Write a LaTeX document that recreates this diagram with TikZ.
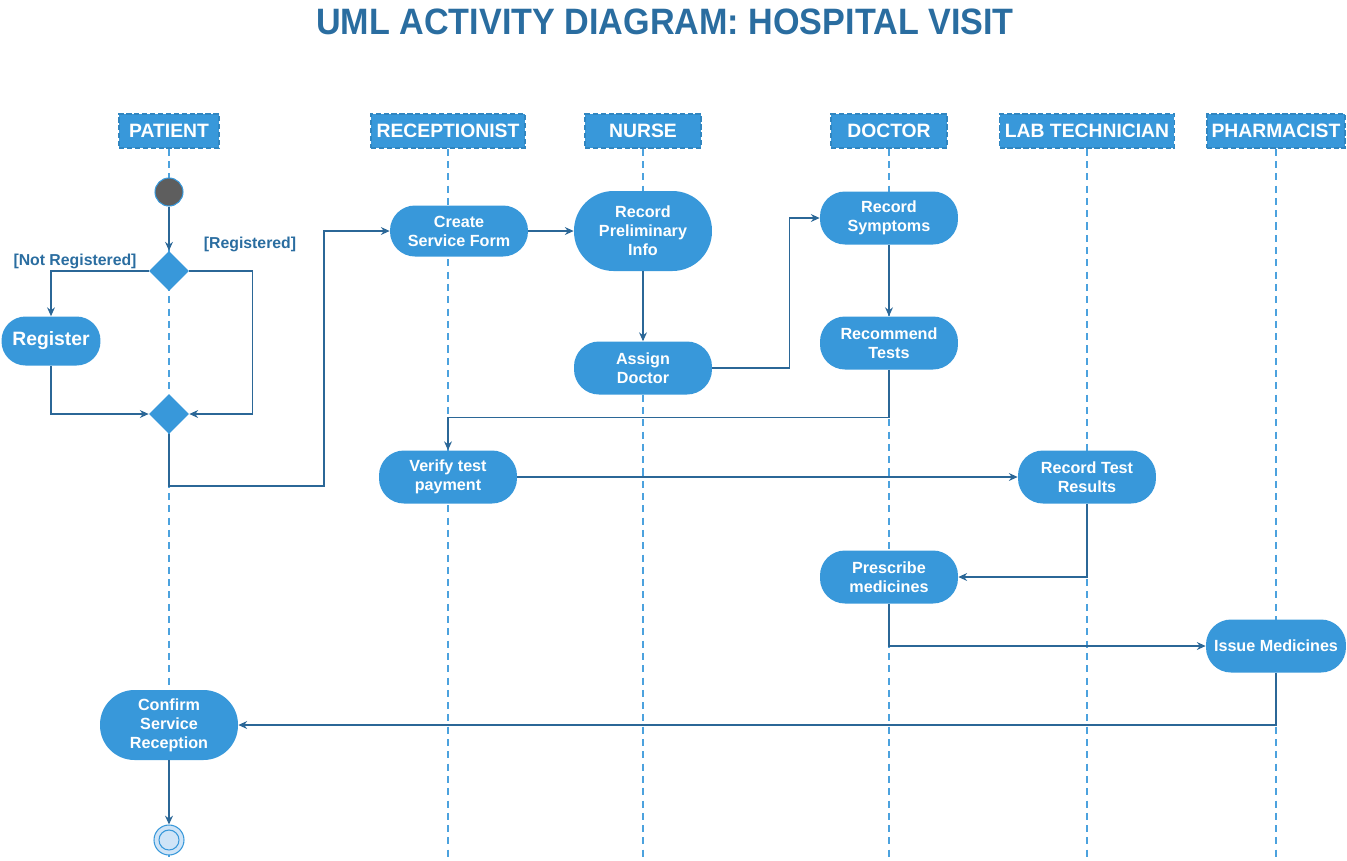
\documentclass[tikz,border=0pt]{standalone}
\usepackage{fontspec}
\setmainfont{Liberation Sans}
\newfontfamily\titlefont[FakeStretch=0.93]{Liberation Sans}
\usepackage{tikz}
\usetikzlibrary{shapes.geometric, arrows.meta}

\definecolor{nodeblue}{HTML}{3898DA}
\definecolor{edgeblue}{HTML}{2B6797}
\definecolor{titleblue}{HTML}{2A6DA0}
\definecolor{endfill}{HTML}{CFE4F7}

\begin{document}
\begin{tikzpicture}[x=0.02cm, y=-0.02cm,
    lanehead/.style={rectangle, fill=nodeblue, draw=nodeblue!88!black, dash pattern=on 3pt off 1.5pt,
        line width=0.8pt, text=white, font=\fontsize{11}{13}\selectfont\bfseries,
        minimum height=0.68cm, inner xsep=2pt},
    lifeline/.style={nodeblue!90!white, line width=1.1pt, dash pattern=on 4pt off 3pt},
    act/.style={rectangle, rounded corners=0.5cm, fill=nodeblue, text=white, align=center,
        font=\fontsize{9.2}{10.8}\selectfont\bfseries, minimum width=2.76cm, minimum height=1.06cm, inner sep=1pt},
    decision/.style={diamond, fill=nodeblue, minimum width=0.8cm, minimum height=0.8cm, inner sep=0pt},
    guard/.style={text=titleblue, font=\fontsize{9}{11}\selectfont\bfseries},
    flow/.style={edgeblue, line width=0.7pt, -{Stealth[length=5pt, width=4.5pt]}}]

    \useasboundingbox (0,0) rectangle (1347,860);

    \node[text=titleblue, font=\titlefont\fontsize{20.9}{24}\selectfont\bfseries] (title) at (665,22)
        {UML ACTIVITY DIAGRAM: HOSPITAL VISIT};

    % swimlane heads and lifelines
    \foreach \x/\n/\w/\lbl in {169/pat/2.0/PATIENT, 448/rec/3.08/RECEPTIONIST, 643/nur/2.32/NURSE,
        889/doc/2.32/DOCTOR, 1087/lab/3.5/LAB TECHNICIAN, 1276/pha/2.76/PHARMACIST} {
        \node[lanehead, minimum width=\w cm] (hd\n) at (\x,131) {\lbl};
        \draw[lifeline] (hd\n.south) -- (\x,860);
    }

    % activities
    \node[circle, fill=black!63, draw=nodeblue, line width=0.6pt, minimum size=0.56cm] (start) at (169,192) {};
    \node[decision] (dec1) at (169,271) {};
    \node[act, minimum width=1.98cm, minimum height=0.98cm, rounded corners=0.48cm,
        font=\fontsize{11}{13}\selectfont\bfseries] (reg) at (51,341) {Register};
    \node[decision] (dec2) at (169,414) {};
    \node[act, minimum height=1.02cm] (create) at (459,231) {Create\\Service Form};
    \node[act, minimum height=1.6cm, rounded corners=0.79cm] (prelim) at (643,231) {Record\\Preliminary\\Info};
    \node[act] (assign) at (643,368) {Assign\\Doctor};
    \node[act] (symp) at (889,218) {Record\\Symptoms};
    \node[act] (recom) at (889,343) {Recommend\\Tests};
    \node[act] (verify) at (448,477) {Verify test\\payment};
    \node[act] (labres) at (1087,477) {Record Test\\Results};
    \node[act] (presc) at (889,577) {Prescribe\\medicines};
    \node[act, minimum width=2.8cm] (issue) at (1276,646) {Issue Medicines};
    \node[act, minimum height=1.4cm, rounded corners=0.69cm] (confirm) at (169,725) {Confirm\\Service\\Reception};
    \node[circle, fill=endfill, draw=nodeblue, line width=0.6pt, minimum size=0.6cm] (stop) at (169,840) {};
    \draw[nodeblue, line width=0.6pt] (stop.center) circle[radius=0.2cm];

    % guards
    \node[guard] (gnot) at (75,261) {[Not Registered]};
    \node[guard] (greg) at (250,244) {[Registered]};

    % control flows
    \draw[flow] (start) -- (dec1);
    \draw[flow] (dec1.west) -| (reg.north);
    \draw[flow] (dec1.east) -- ++(63,0) |- (dec2.east);
    \draw[flow] (reg.south) |- (dec2.west);
    \coordinate (j1) at (324,486);
    \draw[flow] (dec2.south) |- (j1) |- (create.west);
    \draw[flow] (create) -- (prelim);
    \draw[flow] (prelim) -- (assign);
    \draw[flow] (assign.east) -- ++(77,0) |- (symp.west);
    \draw[flow] (symp) -- (recom);
    \draw[flow] (recom.south) -- ++(0,48) -| (verify.north);
    \draw[flow] (verify) -- (labres);
    \draw[flow] (labres.south) |- (presc.east);
    \draw[flow] (presc.south) |- (issue.west);
    \draw[flow] (issue.south) |- (confirm.east);
    \draw[flow] (confirm) -- (stop);
\end{tikzpicture}
\end{document}
